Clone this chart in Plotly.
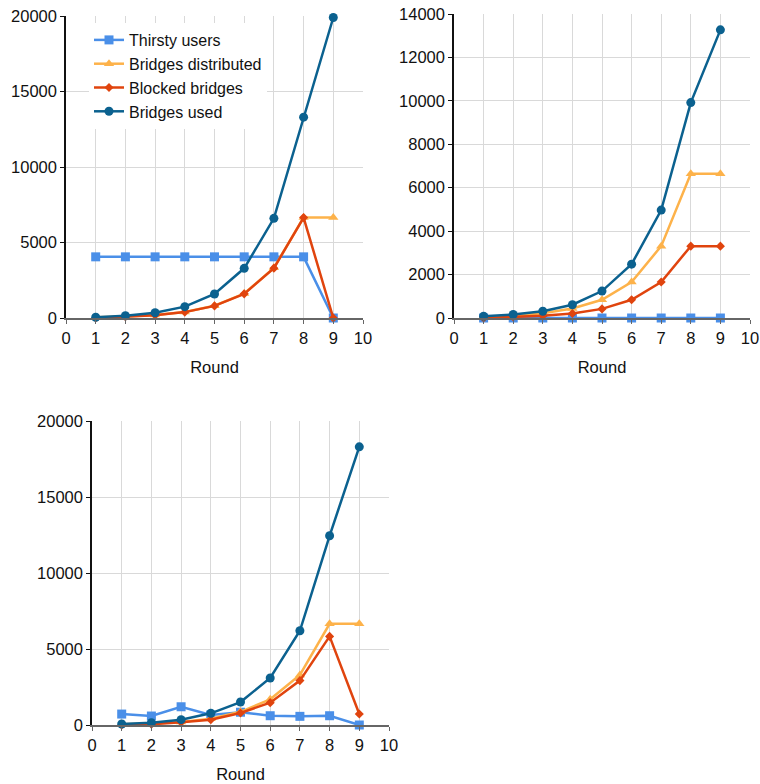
import plotly.graph_objects as go

rounds = [1, 2, 3, 4, 5, 6, 7, 8, 9]

# Chart 1
c1_thirsty = [4050, 4050, 4050, 4050, 4050, 4050, 4050, 4050, 0]
c1_distributed = [50, 100, 200, 400, 810, 1620, 3320, 6650, 6650]
c1_blocked = [0, 80, 180, 390, 800, 1600, 3300, 6650, 0]
c1_used = [50, 150, 350, 750, 1590, 3290, 6600, 13300, 19900]

# Chart 2
c2_thirsty = [0, 0, 0, 0, 0, 0, 0, 0, 0]
c2_distributed = [50, 100, 215, 440, 840, 1660, 3310, 6640, 6640]
c2_blocked = [0, 50, 100, 205, 420, 840, 1660, 3310, 3310]
c2_used = [80, 160, 310, 610, 1240, 2480, 4970, 9920, 13270]

# Chart 3
c3_thirsty = [720, 590, 1200, 660, 840, 610, 570, 610, 0]
c3_distributed = [50, 100, 200, 420, 870, 1690, 3290, 6660, 6660]
c3_blocked = [0, 50, 175, 350, 790, 1470, 2920, 5830, 720]
c3_used = [65, 150, 350, 770, 1510, 3090, 6200, 12450, 18300]

names = ["Thirsty users", "Bridges distributed", "Blocked bridges", "Bridges used"]
colors = ["#4a8fe8", "#fdb24a", "#e0440e", "#0b618f"]
symbols = ["square", "triangle-up", "diamond", "circle"]
msizes = [9, 9, 7, 9]

charts = [
    (c1_thirsty, c1_distributed, c1_blocked, c1_used),
    (c2_thirsty, c2_distributed, c2_blocked, c2_used),
    (c3_thirsty, c3_distributed, c3_blocked, c3_used),
]
y_max = [20000, 14000, 20000]
y_dtick = [5000, 2000, 5000]

W, H = 760, 784
boxes = [  # left, right, top, bottom in page pixels
    (66, 363, 16, 318),
    (454, 750, 14, 318),
    (92, 389, 421, 725),
]

fig = go.Figure()
font_family = "Liberation Sans, Arial, sans-serif"

for i, series in enumerate(charts):
    ax = "" if i == 0 else str(i + 1)
    for j, ys in enumerate(series):
        fig.add_trace(go.Scatter(
            x=rounds, y=ys, name=names[j], mode="lines+markers",
            line=dict(color=colors[j], width=2.5),
            marker=dict(symbol=symbols[j], size=msizes[j], color=colors[j]),
            xaxis="x" + ax, yaxis="y" + ax,
            showlegend=(i == 0), cliponaxis=False,
        ))
    l, r, t, b = boxes[i]
    xd = [l / W, r / W]
    yd = [1 - b / H, 1 - t / H]
    fig.layout["xaxis" + ax] = dict(
        domain=xd, range=[0, 10], dtick=1, tick0=0,
        showgrid=True, gridcolor="#d9d9d9", gridwidth=1,
        showline=True, linecolor="#666666", linewidth=1.5,
        ticks="outside", ticklen=4, tickcolor="#666666",
        zeroline=False, anchor="y" + ax, automargin=False,
        ticklabeloverflow="allow",
        title=dict(text="Round", font=dict(size=16.5, color="#111"), standoff=16),
        tickfont=dict(size=16.5, color="#111"),
        fixedrange=True,
    )
    fig.layout["yaxis" + ax] = dict(
        domain=yd, range=[0, y_max[i]], dtick=y_dtick[i], tick0=0,
        tickformat="d",
        showgrid=True, gridcolor="#d9d9d9", gridwidth=1,
        showline=True, linecolor="#111111", linewidth=1.5,
        ticks="outside", ticklen=4, tickcolor="#111111",
        zeroline=False, anchor="x" + ax, automargin=False,
        ticklabeloverflow="allow",
        tickfont=dict(size=16.5, color="#111"),
        fixedrange=True,
    )

fig.update_layout(
    width=W, height=H,
    margin=dict(l=0, r=0, t=0, b=0, autoexpand=False),
    paper_bgcolor="white", plot_bgcolor="white",
    font=dict(family=font_family, size=16, color="#111"),
    legend=dict(
        x=89 / W, y=1 - 23 / H, xanchor="left", yanchor="top",
        bgcolor="rgba(255,255,255,1)", font=dict(size=16),
        tracegroupgap=0, itemsizing="trace",
    ),
)

fig.write_html(
    "out.html",
    config={"displayModeBar": False},
    post_script="document.body.style.margin='0';document.body.style.overflow='hidden';",
)
